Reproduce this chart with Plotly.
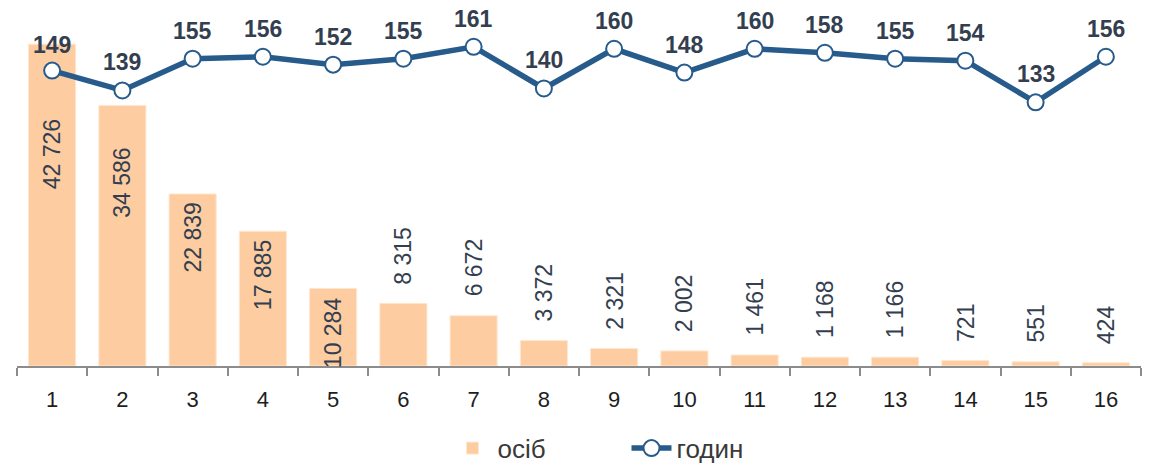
import plotly.graph_objects as go

# ---- data ----
categories = [str(i) for i in range(1, 17)]
persons = [42726, 34586, 22839, 17885, 10284, 8315, 6672, 3372,
           2321, 2002, 1461, 1168, 1166, 721, 551, 424]
hours = [149, 139, 155, 156, 152, 155, 161, 140,
         160, 148, 160, 158, 155, 154, 133, 156]
series_names = ["осіб", "годин"]

# ---- style ----
FONT = "Liberation Sans, Arial, sans-serif"
BAR_COLOR = "#FDCDA1"
LINE_COLOR = "#265B8C"
LABEL_COLOR = "#333F50"
TICK_COLOR = "#1E1E1E"
INSIDE_MIN = 10000            # bars at least this tall carry their label inside
inside_shift = {0: -73, 1: -40}  # extra downward shift for labels near the line
default_inside_shift = -7
outside_shift = 17
line_label_shift = {0: 26}
default_line_label_shift = 28


def fmt(v):
    return f"{v:,}".replace(",", " ")


fig = go.Figure()
fig.add_trace(go.Bar(
    x=categories, y=persons, name=series_names[0],
    marker=dict(color=BAR_COLOR, line=dict(color="#FFE6CF", width=1)),
    yaxis="y",
))
fig.add_trace(go.Scatter(
    x=categories, y=hours, name=series_names[1], mode="lines+markers",
    line=dict(color=LINE_COLOR, width=5.5),
    marker=dict(size=16, color="white", line=dict(color=LINE_COLOR, width=2)),
    yaxis="y2",
))

annotations = []
for i, v in enumerate(persons):
    inside = v >= INSIDE_MIN
    annotations.append(dict(
        x=i, y=v, xref="x", yref="y", text=fmt(v), showarrow=False,
        textangle=-90,
        yanchor="top" if inside else "bottom",
        yshift=inside_shift.get(i, default_inside_shift) if inside else outside_shift,
        font=dict(family=FONT, size=23, color=LABEL_COLOR),
    ))
for i, h in enumerate(hours):
    annotations.append(dict(
        x=i, y=h, xref="x", yref="y2", text=f"<b>{h}</b>", showarrow=False,
        yanchor="middle",
        yshift=line_label_shift.get(i, default_line_label_shift),
        font=dict(family=FONT, size=23, color=LABEL_COLOR),
    ))

fig.update_layout(
    width=1142, height=473,
    margin=dict(l=9, r=9, t=19, b=89),
    paper_bgcolor="white", plot_bgcolor="white",
    font=dict(family=FONT, size=22, color=TICK_COLOR),
    bargap=0.33,
    showlegend=True,
    legend=dict(orientation="h", x=0.383, xanchor="left", y=-0.2425,
                yanchor="middle", font=dict(size=26, color="#3A3A3A"),
                traceorder="normal", itemwidth=40, entrywidth=124),
    xaxis=dict(type="category", showgrid=False, showline=True,
               linecolor="#8C8C8C", linewidth=1.5, ticks="outside",
               tickson="boundaries", ticklen=8, tickcolor="#8C8C8C",
               tickwidth=1.5, ticklabelstandoff=13,
               tickfont=dict(size=22, color=TICK_COLOR),
               range=[-0.5, 15.5]),
    yaxis=dict(range=[0, 45000], visible=False, showgrid=False),
    yaxis2=dict(range=[0, 171], overlaying="y", visible=False, showgrid=False),
    annotations=annotations,
)

fig.write_html("out.html")
